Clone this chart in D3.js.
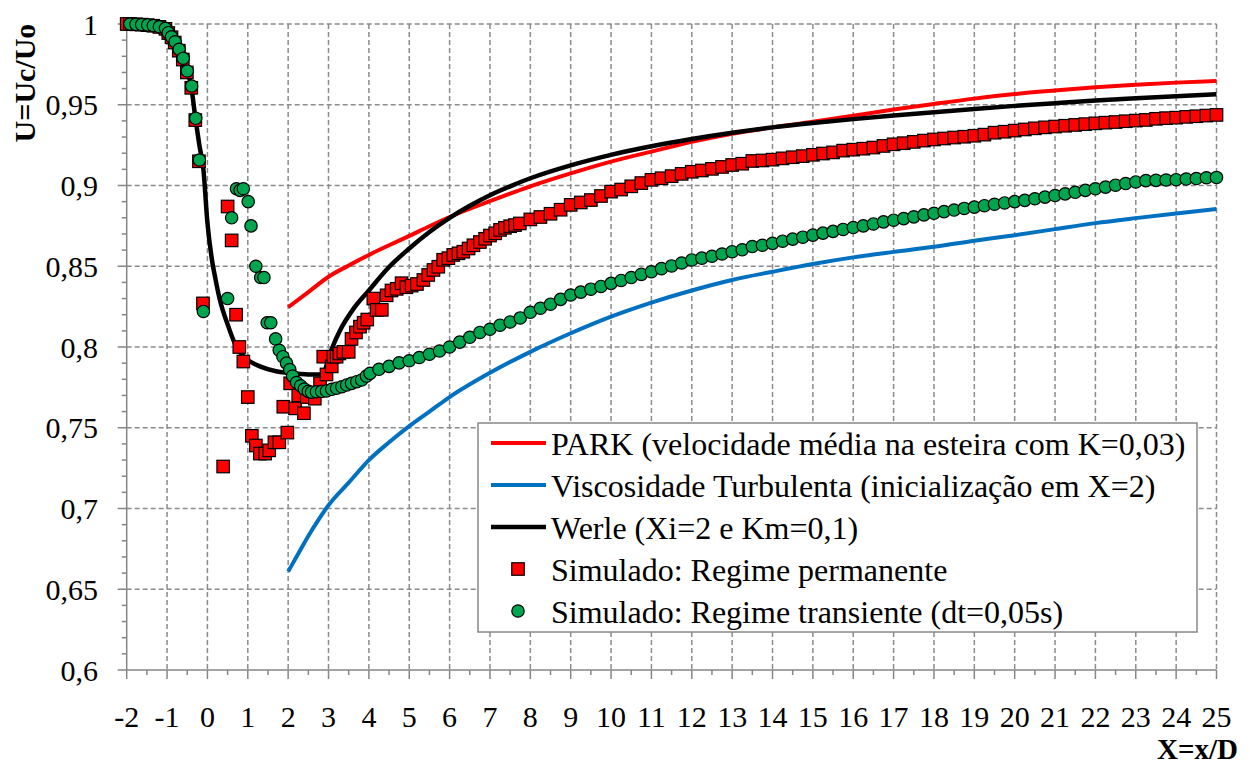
<!DOCTYPE html>
<html>
<head>
<meta charset="utf-8">
<script src="https://cdn.jsdelivr.net/npm/d3@7"></script>
<style>
  body { margin: 0; background: #fff; }
  svg text { font-family: "Liberation Serif", "Times New Roman", serif; fill: #000; }
</style>
</head>
<body>
<svg id="chart" width="1250" height="765"></svg>
<script>
// axis ticks
const xTicks = [-2,-1,0,1,2,3,4,5,6,7,8,9,10,11,12,13,14,15,16,17,18,19,20,21,22,23,24,25];
const xTickLabels = ["-2","-1","0","1","2","3","4","5","6","7","8","9","10","11","12","13","14","15","16","17","18","19","20","21","22","23","24","25"];
const yTicks = [0.6, 0.65, 0.7, 0.75, 0.8, 0.85, 0.9, 0.95, 1];
const yTickLabels = ["0,6","0,65","0,7","0,75","0,8","0,85","0,9","0,95","1"];

// PARK (red line)
const parkX = [2, 2.5, 3, 3.5, 4, 4.5, 5, 5.5, 6, 7, 8, 9, 10, 11, 12, 13, 14, 15, 16, 17, 18, 19, 20, 21, 22, 23, 24, 25];
const parkY = [0.8246, 0.834, 0.8435, 0.8505, 0.857, 0.863, 0.8688, 0.8748, 0.8805, 0.8903, 0.8995, 0.9075, 0.9148, 0.921, 0.927, 0.932, 0.936, 0.9395, 0.9432, 0.947, 0.9505, 0.9538, 0.9566, 0.9588, 0.9608, 0.9624, 0.9637, 0.9647];

// Viscosidade turbulenta (blue line)
const viscX = [2, 2.25, 2.5, 2.75, 3, 3.5, 4, 4.5, 5, 5.5, 6, 7, 8, 9, 10, 11, 12, 13, 14, 15, 16, 17, 18, 19, 20, 21, 22, 23, 24, 25];
const viscY = [0.661, 0.672, 0.683, 0.693, 0.702, 0.716, 0.73, 0.741, 0.751, 0.76, 0.769, 0.784, 0.797, 0.8085, 0.8188, 0.8275, 0.835, 0.8415, 0.8466, 0.8514, 0.8555, 0.8589, 0.8621, 0.8658, 0.8692, 0.873, 0.8767, 0.8798, 0.8827, 0.8854];

// Werle (black line)
const werleX = [-2, -1.5, -1.2, -1, -0.8, -0.6, -0.5, -0.4, -0.3, -0.2, -0.1, 0, 0.1, 0.2, 0.3, 0.5, 0.7, 1, 1.3, 1.7, 2, 2.5, 2.8, 2.9, 3, 3.1, 3.3, 3.6, 4, 4.5, 5, 5.5, 6, 6.5, 7, 7.5, 8, 9, 10, 11, 12, 13, 14, 15, 16, 17, 18, 19, 20, 21, 22, 23, 24, 25];
const werleY = [1.0, 0.9993, 0.9985, 0.997, 0.99, 0.979, 0.971, 0.961, 0.942, 0.925, 0.91, 0.877, 0.856, 0.842, 0.83, 0.814, 0.801, 0.792, 0.788, 0.785, 0.784, 0.783, 0.783, 0.785, 0.793, 0.8, 0.811, 0.823, 0.835, 0.8495, 0.861, 0.8712, 0.88, 0.8875, 0.894, 0.8995, 0.9045, 0.9125, 0.919, 0.9243, 0.9288, 0.9327, 0.936, 0.9387, 0.9411, 0.9433, 0.9454, 0.9474, 0.9493, 0.951, 0.9526, 0.954, 0.9553, 0.9565];

// Simulado: regime permanente (red squares)
const permX = [-2, -1.92, -1.77, -1.63, -1.48, -1.34, -1.19, -1.04, -0.97, -0.89, -0.81, -0.71, -0.61, -0.51, -0.4, -0.3, -0.21, -0.11,
  0.39, 0.5, 0.6, 0.71, 0.79, 0.89, 1.0, 1.1, 1.2, 1.3, 1.43, 1.53, 1.66, 1.78, 1.88, 1.98, 2.05, 2.17, 2.25, 2.39, 2.46, 2.66, 2.79, 2.87, 2.95,
  3.08, 3.12, 3.2, 3.27, 3.37, 3.5, 3.57, 3.68, 3.78, 3.87, 3.96, 4.11, 4.19, 4.32, 4.44, 4.56, 4.69, 4.81, 4.93, 5.06, 5.19, 5.35, 5.47, 5.6, 5.72,
  5.84, 5.97, 6.09, 6.22, 6.34, 6.47, 6.59, 6.75, 6.88, 7.0, 7.13, 7.25, 7.37, 7.5, 7.62, 7.74,
  8.0, 8.25, 8.5, 8.75, 9.0, 9.25, 9.5, 9.75, 10.0, 10.25, 10.5, 10.75, 11.0, 11.25, 11.5, 11.75, 12.0, 12.25, 12.5, 12.75,
  13.0, 13.25, 13.5, 13.75, 14.0, 14.25, 14.5, 14.75, 15.0, 15.25, 15.5, 15.75, 16.0, 16.25, 16.5, 16.75, 17.0, 17.25, 17.5, 17.75,
  18.0, 18.25, 18.5, 18.75, 19.0, 19.25, 19.5, 19.75, 20.0, 20.25, 20.5, 20.75, 21.0, 21.25, 21.5, 21.75, 22.0, 22.25, 22.5, 22.75,
  23.0, 23.25, 23.5, 23.75, 24.0, 24.25, 24.5, 24.75, 25.0];
const permY = [1.0, 1.0, 0.9998, 0.9996, 0.9993, 0.9989, 0.9982, 0.997, 0.9944, 0.9918, 0.9885, 0.9835, 0.978, 0.97, 0.9605, 0.9405, 0.915, 0.827,
  0.726, 0.887, 0.866, 0.82, 0.8, 0.791, 0.769, 0.745, 0.739, 0.734, 0.734, 0.736, 0.741, 0.741, 0.763, 0.747, 0.7775, 0.762, 0.77, 0.759, 0.769, 0.768, 0.7775, 0.794, 0.783,
  0.788, 0.794, 0.794, 0.796, 0.797, 0.797, 0.805, 0.809, 0.8126, 0.815, 0.817, 0.83, 0.823, 0.823, 0.832, 0.835, 0.836, 0.8395, 0.837, 0.838, 0.839, 0.8415, 0.8446, 0.8477, 0.8497,
  0.854, 0.855, 0.857, 0.858, 0.859, 0.861, 0.863, 0.865, 0.867, 0.869, 0.8704, 0.8725, 0.8738, 0.8748, 0.8755, 0.8765,
  0.879, 0.8805, 0.8825, 0.885, 0.888, 0.8895, 0.891, 0.8935, 0.8962, 0.8975, 0.8995, 0.9015, 0.9035, 0.9045, 0.9058, 0.9072, 0.9085, 0.9093, 0.9103, 0.9115,
  0.9127, 0.9135, 0.9152, 0.9155, 0.916, 0.9168, 0.9175, 0.9182, 0.919, 0.9198, 0.9205, 0.9216, 0.9222, 0.9228, 0.9235, 0.9245, 0.9255, 0.9262, 0.927, 0.9278,
  0.9285, 0.9291, 0.9297, 0.9302, 0.9308, 0.9315, 0.9327, 0.9333, 0.934, 0.9347, 0.9354, 0.936, 0.9365, 0.937, 0.9375, 0.938, 0.9385, 0.9389, 0.9393, 0.9398,
  0.9402, 0.9406, 0.9413, 0.9417, 0.942, 0.9425, 0.9429, 0.9433, 0.9437];

// Simulado: regime transiente (green circles)
const transX = [-1.92, -1.77, -1.63, -1.48, -1.34, -1.19, -1.04, -0.97, -0.89, -0.8, -0.7, -0.6, -0.5, -0.39, -0.29, -0.2, -0.1,
  0.5, 0.6, 0.72, 0.81, 0.89, 1.01, 1.08, 1.2, 1.32, 1.4, 1.48, 1.57, 1.69, 1.78, 1.87, 1.96, 2.04, 2.11, 2.21, 2.31, 2.4, 2.5, 2.58, 2.7, 2.83, 2.95,
  3.08, 3.2, 3.33, 3.45, 3.57, 3.7, 3.82, 3.94, 4.03,
  4.25, 4.5, 4.75, 5.0, 5.25, 5.5, 5.75, 6.0, 6.25, 6.5, 6.75, 7.0, 7.25, 7.5, 7.75, 8.0, 8.25, 8.5, 8.75, 9.0, 9.25, 9.5, 9.75,
  10.0, 10.25, 10.5, 10.75, 11.0, 11.25, 11.5, 11.75, 12.0, 12.25, 12.5, 12.75, 13.0, 13.25, 13.5, 13.75, 14.0, 14.25, 14.5, 14.75,
  15.0, 15.25, 15.5, 15.75, 16.0, 16.25, 16.5, 16.75, 17.0, 17.25, 17.5, 17.75, 18.0, 18.25, 18.5, 18.75, 19.0, 19.25, 19.5, 19.75,
  20.0, 20.25, 20.5, 20.75, 21.0, 21.25, 21.5, 21.75, 22.0, 22.25, 22.5, 22.75, 23.0, 23.25, 23.5, 23.75, 24.0, 24.25, 24.5, 24.75, 25.0];
const transY = [1.0, 0.9998, 0.9996, 0.9994, 0.999, 0.9983, 0.9973, 0.9946, 0.9921, 0.989, 0.9843, 0.9788, 0.9709, 0.9616, 0.9416, 0.9158, 0.822,
  0.83, 0.88, 0.898, 0.897, 0.898, 0.89, 0.875, 0.85, 0.843, 0.843, 0.815, 0.815, 0.805, 0.798, 0.794, 0.79, 0.786, 0.782, 0.778, 0.776, 0.774, 0.7725, 0.772, 0.7723, 0.7725, 0.7728,
  0.7738, 0.7745, 0.7754, 0.7765, 0.7775, 0.7785, 0.7796, 0.782, 0.7837,
  0.7862, 0.788, 0.7902, 0.7915, 0.7935, 0.7955, 0.7975, 0.8, 0.803, 0.806, 0.809, 0.811, 0.8135, 0.8155, 0.818, 0.8215, 0.824, 0.8265, 0.8295, 0.8322, 0.834, 0.8358, 0.8375,
  0.8394, 0.8412, 0.843, 0.845, 0.8466, 0.8485, 0.8502, 0.852, 0.8539, 0.855, 0.8562, 0.8576, 0.859, 0.8602, 0.8622, 0.863, 0.8642, 0.8655, 0.8668, 0.868,
  0.8693, 0.8705, 0.8716, 0.8728, 0.874, 0.875, 0.8762, 0.8775, 0.8785, 0.8795, 0.8806, 0.8818, 0.8828, 0.8838, 0.8848, 0.8858, 0.8866, 0.8875, 0.8884, 0.8892,
  0.89, 0.8908, 0.8918, 0.8928, 0.8938, 0.8948, 0.8958, 0.897, 0.898, 0.899, 0.9002, 0.9012, 0.9022, 0.903, 0.9032, 0.9034, 0.9036, 0.904, 0.9043, 0.9048, 0.905];

const legendLabels = [
  "PARK (velocidade média na esteira com K=0,03)",
  "Viscosidade Turbulenta (inicialização em X=2)",
  "Werle (Xi=2 e Km=0,1)",
  "Simulado: Regime permanente",
  "Simulado: Regime transiente (dt=0,05s)"
];

const svg = d3.select("#chart");
const plotLeft = 126.7, plotRight = 1216.5, plotTop = 24, plotBottom = 670;
const x = d3.scaleLinear().domain([-2, 25]).range([plotLeft, plotRight]);
const y = d3.scaleLinear().domain([0.6, 1]).range([plotBottom, plotTop]);
const gridColor = "#8c8c8c";
const axisColor = "#868686";
const RED = "#ff0000", BLUE = "#0070c0", GREEN = "#00a550";

// grid
const grid = svg.append("g");
grid.selectAll(".vg").data(xTicks.slice(1)).join("line")
  .attr("x1", d => x(d)).attr("x2", d => x(d))
  .attr("y1", plotTop).attr("y2", plotBottom)
  .attr("stroke", gridColor).attr("stroke-width", 1.5).attr("stroke-dasharray", "5,3");
grid.selectAll(".hg").data(yTicks.slice(1)).join("line")
  .attr("x1", plotLeft).attr("x2", plotRight)
  .attr("y1", d => y(d)).attr("y2", d => y(d))
  .attr("stroke", gridColor).attr("stroke-width", 1.5).attr("stroke-dasharray", "5,3");

// axes
const ax = svg.append("g");
ax.append("line").attr("x1", plotLeft).attr("x2", plotRight).attr("y1", plotBottom).attr("y2", plotBottom)
  .attr("stroke", axisColor).attr("stroke-width", 1.5);
ax.append("line").attr("x1", plotLeft).attr("x2", plotLeft).attr("y1", plotTop).attr("y2", plotBottom)
  .attr("stroke", axisColor).attr("stroke-width", 1.5);
ax.selectAll(".xt").data(xTicks).join("line")
  .attr("x1", d => x(d)).attr("x2", d => x(d)).attr("y1", plotBottom).attr("y2", plotBottom + 9)
  .attr("stroke", axisColor).attr("stroke-width", 1.5);
ax.selectAll(".xm").data(xTicks.slice(1).map(d => d - 0.5)).join("line")
  .attr("x1", d => x(d)).attr("x2", d => x(d)).attr("y1", plotBottom).attr("y2", plotBottom + 5)
  .attr("stroke", axisColor).attr("stroke-width", 1.5);
ax.selectAll(".yt").data(yTicks).join("line")
  .attr("x1", plotLeft - 9).attr("x2", plotLeft).attr("y1", d => y(d)).attr("y2", d => y(d))
  .attr("stroke", axisColor).attr("stroke-width", 1.5);
ax.selectAll(".ym").data(d3.range(0.61, 1, 0.01).filter(v => Math.abs(v * 20 - Math.round(v * 20)) > 0.01)).join("line")
  .attr("x1", plotLeft - 5).attr("x2", plotLeft).attr("y1", d => y(d)).attr("y2", d => y(d))
  .attr("stroke", axisColor).attr("stroke-width", 1.5);

ax.selectAll(".xl").data(xTicks).join("text")
  .attr("x", d => x(d)).attr("y", 726.5)
  .attr("text-anchor", "middle").attr("font-size", 30)
  .text((d, i) => xTickLabels[i]);
ax.selectAll(".yl").data(yTicks).join("text")
  .attr("x", 98).attr("y", d => y(d)).attr("dy", "0.35em")
  .attr("text-anchor", "end").attr("font-size", 30)
  .text((d, i) => yTickLabels[i]);

svg.append("text").attr("x", 1238).attr("y", 759)
  .attr("text-anchor", "end").attr("font-size", 29).attr("font-weight", "bold")
  .text("X=x/D");
svg.append("text").attr("transform", "translate(35,83) rotate(-90)")
  .attr("text-anchor", "middle").attr("font-size", 30).attr("font-weight", "bold")
  .text("U=Uc/Uo");

// lines
const line = d3.line().x(d => x(d[0])).y(d => y(d[1])).curve(d3.curveMonotoneX);
const lines = [
  { xs: parkX, ys: parkY, color: RED, w: 4 },
  { xs: viscX, ys: viscY, color: BLUE, w: 4 },
  { xs: werleX, ys: werleY, color: "#000", w: 4.5 }
];
lines.forEach(s => {
  svg.append("path").datum(s.xs.map((v, i) => [v, s.ys[i]]))
    .attr("fill", "none").attr("stroke", s.color).attr("stroke-width", s.w)
    .attr("stroke-linejoin", "round").attr("d", line);
});

// markers
const sq = 12.5, rad = 6.2;
svg.append("g").selectAll("rect").data(permX.map((v, i) => [v, permY[i]])).join("rect")
  .attr("x", d => x(d[0]) - sq / 2).attr("y", d => y(d[1]) - sq / 2)
  .attr("width", sq).attr("height", sq)
  .attr("fill", RED).attr("stroke", "#000").attr("stroke-width", 1.2);
svg.append("g").selectAll("circle").data(transX.map((v, i) => [v, transY[i]])).join("circle")
  .attr("cx", d => x(d[0])).attr("cy", d => y(d[1])).attr("r", rad)
  .attr("fill", GREEN).attr("stroke", "#000").attr("stroke-width", 1.2);

// legend
const lg = svg.append("g");
lg.append("rect").attr("x", 478).attr("y", 423).attr("width", 719).attr("height", 209)
  .attr("fill", "#fff").attr("stroke", "#888").attr("stroke-width", 1.5);
const rowY = i => 443 + i * 42;
legendLabels.forEach((label, i) => {
  const cy = rowY(i);
  if (i < 3) {
    lg.append("line").attr("x1", 491).attr("x2", 546).attr("y1", cy).attr("y2", cy)
      .attr("stroke", lines[i].color).attr("stroke-width", lines[i].w);
  } else if (i === 3) {
    lg.append("rect").attr("x", 518 - sq / 2).attr("y", cy - sq / 2).attr("width", sq).attr("height", sq)
      .attr("fill", RED).attr("stroke", "#000").attr("stroke-width", 1.2);
  } else {
    lg.append("circle").attr("cx", 518).attr("cy", cy).attr("r", rad)
      .attr("fill", GREEN).attr("stroke", "#000").attr("stroke-width", 1.2);
  }
  lg.append("text").attr("x", 551).attr("y", cy).attr("dy", "0.36em")
    .attr("font-size", 32).text(label);
});
</script>
</body>
</html>
